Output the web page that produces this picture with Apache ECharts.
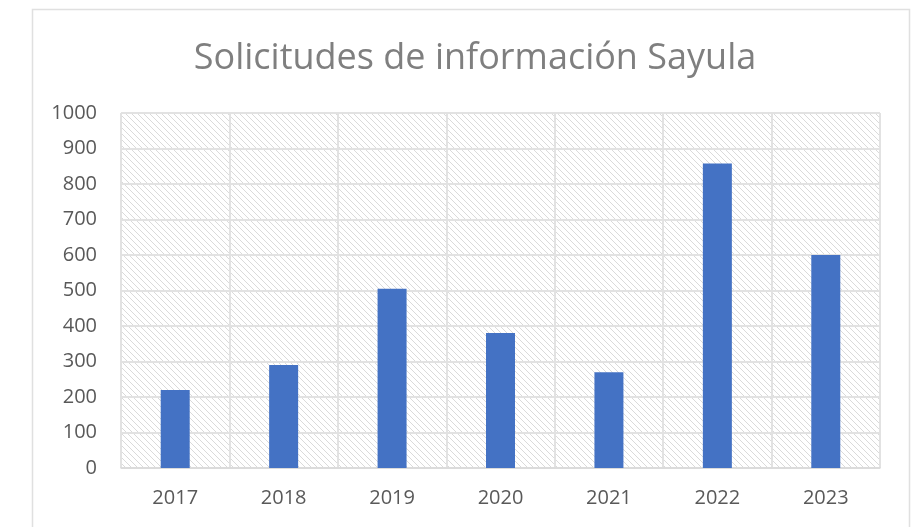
<!DOCTYPE html>
<html>
<head>
<meta charset="utf-8">
<script src="https://cdn.jsdelivr.net/npm/echarts@6/dist/echarts.min.js"></script>
<style>
  html, body { margin: 0; padding: 0; background: #fff; }
  #main { width: 912px; height: 527px; }
</style>
</head>
<body>
<div id="main"></div>
<script>
"use strict";
let years = ['2017', '2018', '2019', '2020', '2021', '2022', '2023'];
let solicitudes = [220, 290, 505, 380, 270, 858, 600];
let yTicks = { min: 0, max: 1000, interval: 100 };

// hatch pattern for the plot background (Excel "wide downward diagonal" look)
function makeHatch() {
    let c = document.createElement('canvas');
    c.width = 6;
    c.height = 6;
    let ctx = c.getContext('2d');
    ctx.fillStyle = '#ffffff';
    ctx.fillRect(0, 0, 6, 6);
    ctx.fillStyle = '#dadada';
    for (let i = 0; i < 6; i++) {
        ctx.fillRect(i, i, 1, 1);
    }
    return c;
}

let myChart = echarts.init(document.getElementById('main'));
let option = {
    backgroundColor: '#ffffff',
    animation: false,
    title: {
        text: 'Solicitudes de información Sayula',
        left: 470,
        top: 36,
        textAlign: 'center',
        textStyle: {
            fontFamily: 'Open Sans',
            fontSize: 36,
            fontWeight: 'normal',
            color: '#7f7f7f'
        }
    },
    graphic: [{
        type: 'rect',
        shape: { x: 32.5, y: 9.5, width: 877, height: 540 },
        style: { fill: 'none', stroke: '#e0e0e0', lineWidth: 1.5 },
        silent: true
    }],
    grid: {
        left: 121,
        right: 32,
        top: 113,
        bottom: 59,
        show: true,
        borderWidth: 0,
        backgroundColor: { image: makeHatch(), repeat: 'repeat' }
    },
    xAxis: {
        type: 'category',
        data: years,
        axisLine: { lineStyle: { color: '#d9d9d9', width: 1.5 } },
        axisTick: { show: false },
        splitLine: { show: true, lineStyle: { color: '#e2e2e2', width: 2 } },
        axisLabel: {
            color: '#595959',
            fontFamily: 'Open Sans',
            fontSize: 20,
            margin: 20
        }
    },
    yAxis: {
        type: 'value',
        min: yTicks.min,
        max: yTicks.max,
        interval: yTicks.interval,
        axisLine: { show: false },
        axisTick: { show: false },
        splitLine: { lineStyle: { color: '#e2e2e2', width: 2 } },
        axisLabel: {
            color: '#595959',
            fontFamily: 'Open Sans',
            fontSize: 20,
            margin: 24,
            formatter: function (v) { return String(v); }
        }
    },
    series: [{
        type: 'bar',
        data: solicitudes,
        barWidth: 29,
        itemStyle: { color: '#4472c4' }
    }]
};
myChart.setOption(option);
</script>
</body>
</html>
